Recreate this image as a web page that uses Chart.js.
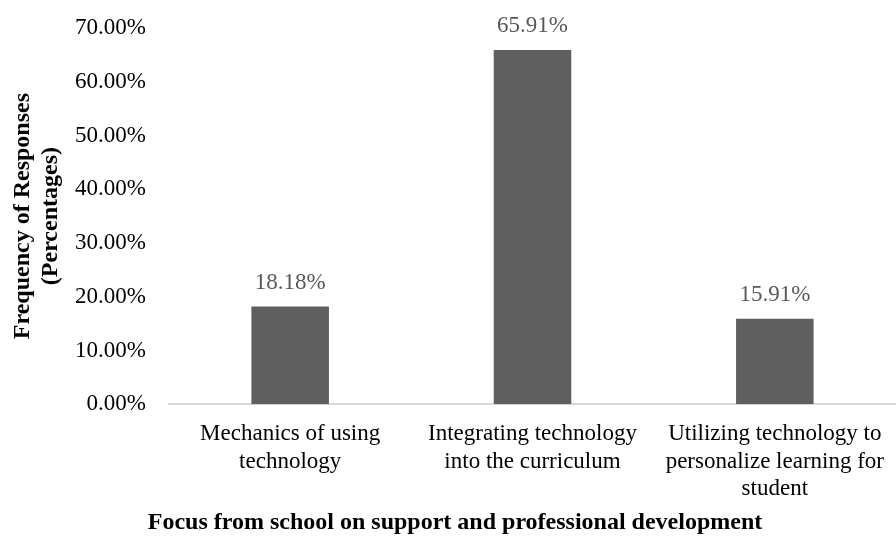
<!DOCTYPE html>
<html>
<head>
<meta charset="utf-8">
<script src="https://cdn.jsdelivr.net/npm/chart.js@4/dist/chart.umd.min.js"></script>
<style>
  html, body { margin: 0; padding: 0; background: #fff; }
  #wrap { width: 896px; height: 537px; }
</style>
</head>
<body>
<div id="wrap"><canvas id="focusChart"></canvas></div>
<script>
// categories (multi-line labels as shown under the bars)
const categories = [
  ["Mechanics of using", "technology"],
  ["Integrating technology", "into the curriculum"],
  ["Utilizing technology to", "personalize learning for", "student"],
];
// percentage of responses
const responses = [18.18, 65.91, 15.91];
const yTicks = [0, 10, 20, 30, 40, 50, 60, 70];

const serif = "'Liberation Serif', 'Times New Roman', serif";

// draws the value above each bar
const barValues = {
  id: "barValues",
  afterDatasetsDraw(chart) {
    const ctx = chart.ctx;
    const meta = chart.getDatasetMeta(0);
    ctx.save();
    ctx.font = "23px " + serif;
    ctx.fillStyle = "#595959";
    ctx.textAlign = "center";
    ctx.textBaseline = "middle";
    meta.data.forEach((bar, i) => {
      ctx.fillText(responses[i].toFixed(2) + "%", bar.x, bar.y - 24);
    });
    ctx.restore();
  },
};

const ctx = document.getElementById("focusChart").getContext("2d");
const chart = new Chart(ctx, {
  type: "bar",
  data: {
    labels: categories,
    datasets: [
      {
        data: responses,
        backgroundColor: "#5f5f5f",
        barPercentage: 0.32,
        categoryPercentage: 1,
      },
    ],
  },
  options: {
    responsive: true,
    maintainAspectRatio: false,
    animation: false,
    layout: { padding: { top: 0, right: -6, left: 8, bottom: 0 } },
    plugins: {
      legend: { display: false },
      tooltip: { enabled: false },
      title: {
        display: true,
        position: "bottom",
        text: "Focus from school on support and professional development",
        color: "#000",
        font: { family: serif, size: 24, weight: "bold" },
        padding: { top: 0, bottom: 0 },
      },
    },
    scales: {
      x: {
        grid: { display: false, drawTicks: false },
        border: { display: true, color: "#d9d9d9", width: 2 },
        ticks: {
          color: "#000",
          maxRotation: 0,
          autoSkip: false,
          padding: 16,
          font: { family: serif, size: 23 },
        },
        afterFit: (scale) => {
          scale.height = 104;
          scale.paddingLeft = 0;
          scale.paddingRight = 0;
        },
      },
      y: {
        min: 0,
        max: 70,
        afterBuildTicks: (axis) => {
          axis.ticks = yTicks.map((v) => ({ value: v }));
        },
        grid: { display: false, drawTicks: false },
        border: { display: false },
        ticks: {
          color: "#000",
          padding: 23,
          font: { family: serif, size: 23 },
          callback: (v) => v.toFixed(2) + "%",
        },
        title: {
          display: true,
          text: ["Frequency of Responses", "(Percentages)"],
          color: "#000",
          font: { family: serif, size: 24, weight: "bold" },
          padding: { top: 0, bottom: 0 },
        },
        afterFit: (scale) => {
          scale.width = 161;
          scale.paddingTop = 28;
          scale.paddingBottom = 0;
        },
      },
    },
  },
  plugins: [barValues],
});
</script>
</body>
</html>
